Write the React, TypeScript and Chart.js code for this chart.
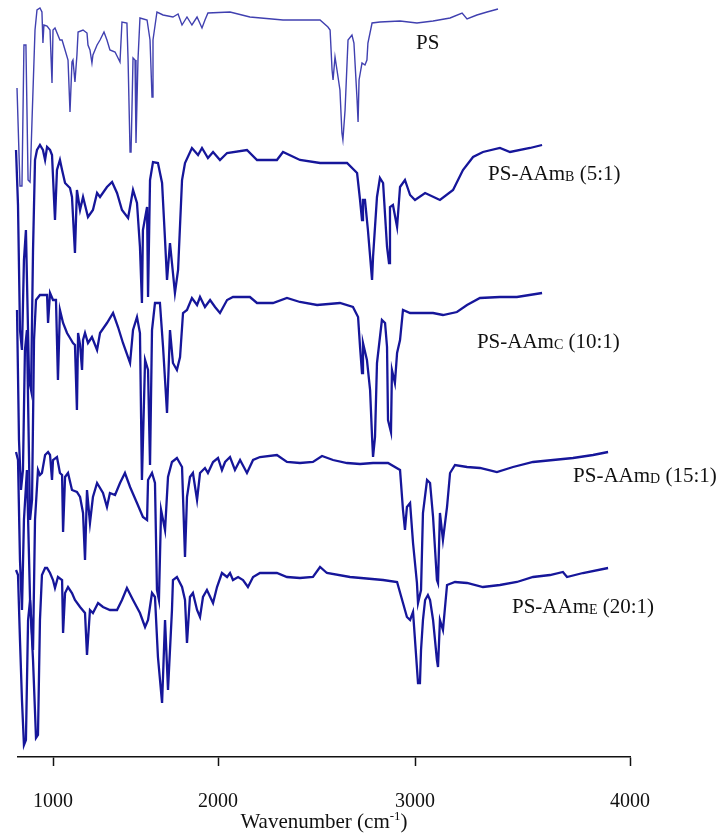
import React, { useEffect, useRef } from "react";
import { Chart, registerables, LinearScale } from "chart.js";

// ---------- axis definition (the source figure's wavenumber axis is uneven) ----------
const AXIS_WN = [788, 1000, 2000, 3000, 4000];
const AXIS_FRAC = [0, 0.0572, 0.3268, 0.6487, 1];
const TICK_VALUES = [1000, 2000, 3000, 4000];
const X_TITLE_MAIN = "Wavenumber (cm";
const X_TITLE_SUP = "-1";
const X_TITLE_TAIL = ")";

// ---------- spectra: [wavenumber (cm-1), transmittance (a.u., offset)] ----------
const PS_SPECTRUM: [number, number][] = [
  [764, 75.1], [770, 69.7], [782, 66.9], [800, 57.1], [812, 57.1], [824, 71.2], [836, 71.2],
  [849, 57.7], [861, 57.5], [873, 63.7], [891, 72.7], [903, 74.7], [921, 74.9], [933, 74.5],
  [939, 71.4], [945, 73.2], [964, 73.1], [982, 72.7], [994, 67.4], [1000, 72.7], [1012, 72.9],
  [1042, 71.7], [1055, 71.7], [1073, 70.7], [1091, 69.7], [1103, 64.5], [1115, 69.5], [1121, 69.7],
  [1133, 67.5], [1145, 70.2], [1152, 72.5], [1182, 72.7], [1206, 72.4], [1212, 71.2], [1224, 70.7],
  [1236, 69.4], [1242, 70.2], [1267, 71.2], [1285, 71.7], [1309, 72.5], [1327, 71.7], [1345, 70.7],
  [1376, 70.5], [1394, 69.9], [1406, 69.5], [1418, 73.5], [1448, 73.4], [1455, 69.7], [1467, 60.5],
  [1473, 60.5], [1485, 69.9], [1497, 69.7], [1503, 61.4], [1515, 69.7], [1527, 73.9], [1570, 73.7],
  [1588, 71.7], [1600, 66.0], [1606, 71.7], [1630, 74.5], [1667, 74.2], [1727, 74.0], [1758, 74.3],
  [1782, 73.2], [1812, 74.0], [1842, 73.2], [1873, 74.0], [1903, 72.9], [1921, 73.7], [1939, 74.4],
  [2061, 74.5], [2162, 74.0], [2330, 73.7], [2518, 73.7], [2558, 73.0], [2569, 72.7], [2579, 68.7],
  [2584, 67.7], [2594, 70.0], [2604, 68.7], [2619, 66.7], [2629, 62.4], [2634, 61.7], [2645, 64.7],
  [2660, 71.7], [2680, 72.2], [2690, 71.4], [2706, 65.7], [2711, 63.5], [2716, 67.7], [2731, 69.4],
  [2746, 69.2], [2756, 69.7], [2761, 71.4], [2782, 73.4], [2822, 73.5], [2924, 73.6], [3009, 73.4],
  [3084, 73.6], [3163, 73.9], [3219, 74.4], [3242, 73.8], [3288, 74.2], [3335, 74.5], [3386, 74.8],
];

const PS_AAM_B: [number, number][] = [
  [764, 61.7], [776, 60.7], [788, 55.2], [800, 42.7], [812, 40.7], [824, 49.7], [836, 52.7],
  [855, 37.7], [867, 36.7], [879, 50.7], [891, 59.7], [903, 60.7], [921, 61.2], [939, 60.7],
  [952, 59.7], [964, 61.0], [982, 60.7], [994, 60.2], [1012, 53.7], [1024, 58.7], [1042, 59.7],
  [1055, 58.7], [1073, 57.4], [1103, 56.9], [1115, 56.0], [1133, 50.4], [1145, 56.7], [1164, 54.7],
  [1182, 56.0], [1212, 54.0], [1242, 54.7], [1267, 56.4], [1285, 56.0], [1327, 57.0], [1358, 57.5],
  [1388, 56.4], [1418, 54.7], [1455, 53.9], [1485, 56.7], [1509, 55.4], [1527, 51.0], [1539, 45.4],
  [1545, 52.7], [1570, 55.0], [1576, 46.0], [1588, 57.7], [1606, 59.5], [1636, 59.4], [1661, 57.4],
  [1679, 51.7], [1691, 47.7], [1709, 51.4], [1721, 49.4], [1739, 46.4], [1758, 48.7], [1782, 57.7],
  [1800, 59.4], [1842, 60.9], [1879, 60.2], [1903, 60.9], [1939, 59.9], [1970, 60.5], [2010, 59.7],
  [2046, 60.4], [2147, 60.7], [2198, 59.7], [2299, 59.7], [2330, 60.5], [2416, 59.7], [2518, 59.4],
  [2655, 59.4], [2706, 58.4], [2721, 55.7], [2731, 53.7], [2736, 55.7], [2746, 55.7], [2761, 52.7],
  [2782, 47.7], [2787, 50.0], [2807, 56.0], [2822, 57.9], [2838, 57.4], [2858, 51.0], [2868, 49.4],
  [2873, 55.0], [2888, 55.2], [2909, 53.0], [2924, 57.0], [2949, 57.7], [2975, 56.2], [3000, 55.7],
  [3047, 56.4], [3116, 55.7], [3177, 56.7], [3223, 58.7], [3270, 60.0], [3316, 60.5], [3395, 60.9],
  [3442, 60.5], [3535, 60.9], [3591, 61.2],
];

const PS_AAM_C: [number, number][] = [
  [770, 46.2], [782, 44.7], [794, 31.7], [806, 26.7], [818, 28.7], [830, 40.7], [842, 42.7],
  [861, 23.7], [873, 25.7], [885, 41.7], [897, 45.7], [921, 46.2], [964, 46.2], [970, 43.4],
  [982, 46.4], [1000, 45.7], [1018, 45.7], [1030, 37.7], [1042, 44.7], [1061, 43.4], [1085, 42.4],
  [1103, 41.9], [1121, 41.4], [1133, 41.2], [1145, 34.7], [1152, 42.4], [1164, 41.2], [1176, 38.7],
  [1182, 41.7], [1194, 42.4], [1212, 41.4], [1236, 42.0], [1267, 40.7], [1285, 42.4], [1327, 43.4],
  [1364, 44.4], [1394, 43.0], [1424, 41.4], [1467, 39.4], [1485, 42.7], [1509, 44.0], [1527, 42.4],
  [1539, 27.7], [1558, 39.7], [1576, 38.7], [1588, 29.2], [1600, 42.7], [1618, 45.4], [1648, 45.4],
  [1667, 41.0], [1691, 34.4], [1709, 42.7], [1727, 39.4], [1751, 38.7], [1770, 40.0], [1788, 44.4],
  [1812, 44.7], [1842, 45.9], [1873, 45.2], [1891, 46.0], [1921, 45.0], [1952, 45.7], [1982, 45.0],
  [2010, 44.4], [2046, 45.7], [2076, 46.0], [2162, 46.0], [2198, 45.4], [2279, 45.4], [2350, 45.9],
  [2416, 45.5], [2503, 45.2], [2619, 45.4], [2685, 45.0], [2711, 44.0], [2721, 41.0], [2731, 38.4],
  [2736, 41.4], [2756, 39.7], [2772, 36.7], [2782, 32.0], [2787, 30.0], [2797, 32.0], [2807, 39.4],
  [2832, 43.7], [2848, 43.4], [2858, 41.0], [2863, 33.7], [2878, 32.5], [2883, 38.7], [2898, 37.4],
  [2909, 40.4], [2924, 41.7], [2939, 44.7], [2975, 44.4], [3084, 44.4], [3130, 44.2], [3195, 44.5],
  [3242, 45.2], [3302, 45.9], [3395, 46.0], [3474, 46.0], [3591, 46.4],
];

const PS_AAM_D: [number, number][] = [
  [776, 30.5], [788, 29.7], [800, 19.7], [812, 14.7], [824, 23.7], [842, 28.7], [861, 15.7],
  [879, 10.7], [891, 23.7], [909, 28.7], [921, 28.2], [933, 28.4], [952, 30.2], [970, 30.5],
  [982, 30.2], [994, 27.7], [1000, 29.7], [1024, 30.0], [1042, 28.4], [1055, 28.2], [1061, 22.5],
  [1073, 28.0], [1091, 28.4], [1115, 26.7], [1145, 26.5], [1164, 26.0], [1182, 24.4], [1194, 19.7],
  [1206, 26.7], [1224, 23.4], [1242, 26.0], [1267, 27.4], [1303, 26.4], [1327, 25.0], [1345, 26.4],
  [1376, 26.2], [1406, 27.4], [1436, 28.4], [1467, 27.0], [1509, 25.4], [1545, 24.0], [1570, 23.7],
  [1576, 27.7], [1600, 28.4], [1618, 27.4], [1630, 16.7], [1642, 15.7], [1655, 24.7], [1667, 23.7],
  [1679, 22.7], [1697, 28.0], [1721, 29.5], [1751, 29.9], [1782, 29.0], [1788, 26.0], [1800, 20.0],
  [1812, 26.0], [1830, 28.0], [1848, 28.4], [1873, 25.7], [1891, 28.4], [1921, 28.9], [1939, 28.4],
  [1970, 29.5], [2000, 29.9], [2020, 28.7], [2036, 29.5], [2061, 30.0], [2086, 28.7], [2112, 29.7],
  [2147, 28.4], [2178, 29.7], [2213, 30.0], [2299, 30.2], [2350, 29.5], [2416, 29.4], [2482, 29.5],
  [2528, 30.1], [2584, 29.7], [2655, 29.4], [2721, 29.3], [2787, 29.4], [2863, 29.4], [2924, 28.7],
  [2939, 24.7], [2949, 22.7], [2959, 25.0], [2975, 25.4], [2990, 21.4], [3009, 17.4], [3014, 15.4],
  [3028, 16.7], [3037, 24.4], [3056, 27.7], [3070, 27.4], [3084, 24.0], [3102, 17.7], [3107, 17.4],
  [3116, 24.4], [3130, 21.7], [3149, 25.0], [3163, 28.4], [3186, 29.2], [3242, 29.0], [3302, 28.9],
  [3381, 28.5], [3456, 29.0], [3549, 29.5], [3642, 29.7], [3735, 29.9], [3828, 30.2], [3898, 30.5],
];

const PS_AAM_E: [number, number][] = [
  [776, 18.7], [788, 18.2], [800, 11.7], [812, 5.7], [824, 1.2], [836, 1.7], [849, 13.7],
  [861, 15.7], [879, 9.7], [897, 1.9], [909, 2.2], [921, 13.7], [933, 18.2], [952, 18.9],
  [964, 18.9], [982, 18.4], [1000, 17.7], [1012, 16.9], [1030, 18.0], [1055, 17.7], [1061, 12.4],
  [1073, 16.4], [1091, 17.0], [1115, 16.4], [1133, 15.7], [1164, 15.0], [1194, 14.4], [1206, 10.2],
  [1224, 14.7], [1242, 14.4], [1273, 15.4], [1303, 15.0], [1345, 14.7], [1388, 14.7], [1418, 15.7],
  [1448, 16.9], [1485, 15.7], [1527, 14.4], [1558, 13.0], [1576, 13.7], [1600, 16.4], [1618, 16.0],
  [1636, 10.0], [1661, 5.4], [1679, 13.7], [1697, 6.7], [1721, 14.7], [1727, 17.7], [1751, 18.0],
  [1782, 17.0], [1800, 15.7], [1812, 11.4], [1830, 16.0], [1848, 16.4], [1873, 14.7], [1891, 14.0],
  [1909, 16.0], [1933, 16.7], [1970, 15.4], [1994, 17.0], [2020, 18.4], [2046, 18.0], [2061, 18.4],
  [2076, 17.7], [2102, 18.0], [2127, 17.7], [2152, 17.0], [2178, 18.0], [2213, 18.4], [2299, 18.4],
  [2350, 18.0], [2416, 17.9], [2482, 18.0], [2518, 19.0], [2553, 18.4], [2670, 18.0], [2838, 17.7],
  [2909, 17.5], [2939, 15.4], [2959, 14.0], [2975, 13.7], [2990, 14.5], [3000, 11.7], [3014, 7.4],
  [3023, 7.4], [3028, 10.7], [3037, 13.7], [3047, 15.7], [3060, 16.2], [3070, 15.7], [3084, 13.7],
  [3102, 9.7], [3107, 9.0], [3116, 13.7], [3130, 12.7], [3149, 17.2], [3186, 17.5], [3242, 17.4],
  [3316, 17.0], [3395, 17.2], [3474, 17.5], [3549, 18.0], [3628, 18.2], [3688, 18.5], [3707, 18.0],
  [3781, 18.4], [3898, 18.9],
];

const SERIES_NAMES = ["PS", "PS-AAmB (5:1)", "PS-AAmC (10:1)", "PS-AAmD (15:1)", "PS-AAmE (20:1)"];
const SERIES_DATA = [PS_SPECTRUM, PS_AAM_B, PS_AAM_C, PS_AAM_D, PS_AAM_E];
const SERIES_COLORS = ["#4040b0", "#16169a", "#16169a", "#16169a", "#16169a"];
const SERIES_WIDTHS = [1.4, 2.3, 2.3, 2.3, 2.3];

// labels: main text, subscript, tail, anchor (wavenumber, value)
const LABEL_MAIN = ["PS", "PS-AAm", "PS-AAm", "PS-AAm", "PS-AAm"];
const LABEL_SUB = ["", "B", "C", "D", "E"];
const LABEL_TAIL = ["", " (5:1)", " (10:1)", " (15:1)", " (20:1)"];
const LABEL_X = [3005, 3340, 3288, 3735, 3451];
const LABEL_Y = [70.8, 57.7, 40.9, 27.5, 14.4];

const FONT_FAMILY = '"Liberation Serif", "Times New Roman", serif';

function wnToFraction(v: number): number {
  const n = AXIS_WN.length;
  let i = 0;
  if (v <= AXIS_WN[1]) i = 0;
  else if (v >= AXIS_WN[n - 2]) i = n - 2;
  else {
    for (let k = 1; k < n - 1; k++) {
      if (v >= AXIS_WN[k] && v <= AXIS_WN[k + 1]) { i = k; break; }
    }
  }
  const t = (v - AXIS_WN[i]) / (AXIS_WN[i + 1] - AXIS_WN[i]);
  return AXIS_FRAC[i] + t * (AXIS_FRAC[i + 1] - AXIS_FRAC[i]);
}

function fractionToWn(f: number): number {
  const n = AXIS_FRAC.length;
  let i = 0;
  if (f <= AXIS_FRAC[1]) i = 0;
  else if (f >= AXIS_FRAC[n - 2]) i = n - 2;
  else {
    for (let k = 1; k < n - 1; k++) {
      if (f >= AXIS_FRAC[k] && f <= AXIS_FRAC[k + 1]) { i = k; break; }
    }
  }
  const t = (f - AXIS_FRAC[i]) / (AXIS_FRAC[i + 1] - AXIS_FRAC[i]);
  return AXIS_WN[i] + t * (AXIS_WN[i + 1] - AXIS_WN[i]);
}

class PiecewiseScale extends LinearScale {
  static id = "piecewise";
  static defaults = LinearScale.defaults;
  getPixelForValue(value: any) {
    if (value === null || value === undefined || isNaN(value)) return NaN;
    return this.getPixelForDecimal(wnToFraction(value));
  }
  getValueForPixel(pixel: number) {
    return fractionToWn(this.getDecimalForPixel(pixel));
  }
}

Chart.register(...registerables, PiecewiseScale as any);

const labelPlugin = {
  id: "spectrumLabels",
  afterDatasetsDraw(chart: any) {
    const ctx = chart.ctx;
    const xs = chart.scales.x;
    const ys = chart.scales.y;
    ctx.save();
    ctx.fillStyle = "#111";
    ctx.textBaseline = "alphabetic";
    ctx.textAlign = "left";
    for (let i = 0; i < LABEL_MAIN.length; i++) {
      let x = xs.getPixelForValue(LABEL_X[i]);
      const y = ys.getPixelForValue(LABEL_Y[i]);
      ctx.font = `21px ${FONT_FAMILY}`;
      ctx.fillText(LABEL_MAIN[i], x, y);
      x += ctx.measureText(LABEL_MAIN[i]).width;
      if (LABEL_SUB[i]) {
        ctx.font = `14px ${FONT_FAMILY}`;
        ctx.fillText(LABEL_SUB[i], x, y + 1);
        x += ctx.measureText(LABEL_SUB[i]).width;
      }
      if (LABEL_TAIL[i]) {
        ctx.font = `21px ${FONT_FAMILY}`;
        ctx.fillText(LABEL_TAIL[i], x, y);
      }
    }
    // x axis title with superscript
    const area = chart.chartArea;
    const cx = (area.left + area.right) / 2;
    const by = area.bottom + 71;
    ctx.font = `21px ${FONT_FAMILY}`;
    const w1 = ctx.measureText(X_TITLE_MAIN).width;
    const w3 = ctx.measureText(X_TITLE_TAIL).width;
    ctx.font = `13px ${FONT_FAMILY}`;
    const w2 = ctx.measureText(X_TITLE_SUP).width;
    let tx = cx - (w1 + w2 + w3) / 2;
    ctx.font = `21px ${FONT_FAMILY}`;
    ctx.fillText(X_TITLE_MAIN, tx, by);
    tx += w1;
    ctx.font = `13px ${FONT_FAMILY}`;
    ctx.fillText(X_TITLE_SUP, tx, by - 8);
    tx += w2;
    ctx.font = `21px ${FONT_FAMILY}`;
    ctx.fillText(X_TITLE_TAIL, tx, by);
    ctx.restore();
  },
};

export default function App() {
  const canvasRef = useRef<HTMLCanvasElement | null>(null);

  useEffect(() => {
    const canvas = canvasRef.current;
    if (!canvas) return;
    const chart = new Chart(canvas, {
      type: "line",
      data: {
        datasets: SERIES_DATA.map((d, i) => ({
          label: SERIES_NAMES[i],
          data: d.map(([x, y]) => ({ x, y })),
          borderColor: SERIES_COLORS[i],
          backgroundColor: SERIES_COLORS[i],
          borderWidth: SERIES_WIDTHS[i],
          pointRadius: 0,
          tension: 0,
          fill: false,
          clip: false as any,
          borderJoinStyle: "miter" as const,
        })),
      },
      options: {
        animation: false,
        responsive: false,
        maintainAspectRatio: false,
        devicePixelRatio: 1,
        layout: { padding: { left: 18, right: 90, top: 5, bottom: 0 } },
        plugins: {
          legend: { display: false },
          tooltip: { enabled: false },
          title: { display: false },
        },
        scales: {
          x: {
            type: "piecewise" as any,
            position: "bottom",
            min: AXIS_WN[0],
            max: AXIS_WN[AXIS_WN.length - 1],
            afterBuildTicks: (scale: any) => {
              scale.ticks = TICK_VALUES.map((v) => ({ value: v }));
            },
            grid: {
              display: true,
              drawOnChartArea: false,
              drawTicks: true,
              tickLength: 9,
              tickWidth: 1.5,
              tickColor: "#111",
            },
            border: { display: true, color: "#111", width: 1.5 },
            ticks: {
              autoSkip: false,
              maxRotation: 0,
              padding: 24,
              color: "#111",
              font: { family: FONT_FAMILY, size: 20 },
              callback: (v: any) => String(v),
            },
          } as any,
          y: {
            type: "linear",
            display: false,
            min: 0,
            max: 75.2,
          },
        },
      },
      plugins: [labelPlugin],
    });
    return () => chart.destroy();
  }, []);

  return (
    <div style={{ position: "fixed", left: 0, top: 0, width: 720, height: 838, background: "#fff" }}>
      <canvas ref={canvasRef} width={720} height={838} style={{ width: 720, height: 838, display: "block" }} />
    </div>
  );
}
